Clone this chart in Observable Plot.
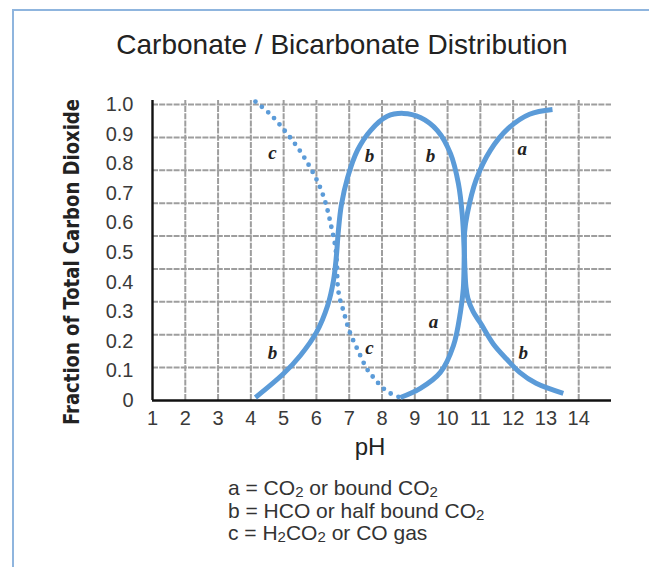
<!DOCTYPE html>
<html>
<head>
<meta charset="utf-8">
<script src="https://cdn.jsdelivr.net/npm/d3@7"></script>
<script src="https://cdn.jsdelivr.net/npm/@observablehq/plot@0.6"></script>
<style>
  html, body { margin: 0; padding: 0; background: #fff; }
  body { width: 649px; height: 567px; position: relative; overflow: hidden; font-family: "Liberation Sans", Arial, sans-serif; }
  #frame { position: absolute; left: 12px; top: 9px; width: 700px; height: 620px; border: 2px solid #8fb5de; box-sizing: border-box; }
  #title { position: absolute; left: 0; top: 29px; width: 684px; text-align: center; font-size: 28px; line-height: 32px; color: #222; }
  #chart { position: absolute; left: 0; top: 0; }
  #ytitle { position: absolute; left: 0; top: 0; }
  #xtitle { position: absolute; left: 0; top: 433px; width: 740px; text-align: center; font-size: 24px; line-height: 28px; color: #222; }
  #legend { position: absolute; left: 228px; top: 477px; font-size: 21px; color: #333; }
  #legend div { height: 22.5px; line-height: 22.5px; }
  #legend sub { font-size: 15px; vertical-align: -2px; line-height: 0; }
</style>
</head>
<body>
<div id="frame"></div>
<div id="title">Carbonate / Bicarbonate Distribution</div>
<div id="chart"></div>
<svg id="ytitle" width="120" height="567"><text x="71" y="262" transform="rotate(-90 71 262)" text-anchor="middle" dominant-baseline="central" textLength="326" lengthAdjust="spacingAndGlyphs" font-family="'Liberation Sans Narrow','DejaVu Sans Condensed','Liberation Sans',sans-serif" font-weight="bold" font-size="22" fill="#222">Fraction of Total Carbon Dioxide</text></svg>
<div id="xtitle">pH</div>
<div id="legend">
  <div>a = CO<sub>2</sub> or bound CO<sub>2</sub></div>
  <div>b = HCO or half bound CO<sub>2</sub></div>
  <div>c = H<sub>2</sub>CO<sub>2</sub> or CO gas</div>
</div>
<script>
// tick labels
const xTicks = [1,2,3,4,5,6,7,8,9,10,11,12,13,14];
const yTicks = [0,0.1,0.2,0.3,0.4,0.5,0.6,0.7,0.8,0.9,1.0];
const yTickLabels = ["0","0.1","0.2","0.3","0.4","0.5","0.6","0.7","0.8","0.9","1.0"];

// curve b (HCO / half bound CO2)
const bPH   = [4.14,5.0,5.51,6.0,6.34,6.52,6.61,6.67,6.76,6.95,7.25,7.65,8.16,8.65,9.17,9.69,10.09,10.33,10.45,10.51,10.53,10.56,10.62,10.78,11.0,11.4,11.8,12.2,12.7,13.53];
const bFrac = [0.01,0.091,0.152,0.23,0.32,0.405,0.49,0.574,0.66,0.753,0.845,0.912,0.96,0.970,0.956,0.912,0.834,0.733,0.625,0.507,0.44,0.385,0.345,0.300,0.262,0.19,0.14,0.095,0.058,0.024];

// curve a (CO2 / bound CO2)
const aPH   = [8.56,9.17,9.78,10.18,10.39,10.48,10.51,10.52,10.6,10.87,11.30,11.85,12.5,13.2];
const aFrac = [0.01,0.041,0.095,0.186,0.297,0.378,0.507,0.569,0.63,0.745,0.844,0.919,0.967,0.983];

// curve c (H2CO2 / CO gas), dotted
const cPH   = [4.14,4.63,5.05,5.45,5.79,6.09,6.30,6.46,6.58,6.63,6.64,6.70,6.82,7.01,7.28,7.55,7.77,8.01,8.26,8.56];
const cFrac = [1.01,0.963,0.909,0.851,0.791,0.726,0.659,0.584,0.517,0.45,0.40,0.35,0.304,0.233,0.166,0.105,0.074,0.044,0.024,0.01];

// curve letter labels
const labText = ["c","b","b","a","b","c","a","b"];
const labPH   = [4.66,7.62,9.48,12.28,4.66,7.62,9.57,12.31];
const labFrac = [0.838,0.828,0.828,0.851,0.162,0.176,0.264,0.162];

// grid lines (square grid: 9 rows, one column per pH unit)
const xGrid = [2,3,4,5,6,7,8,9,10,11,12,13,14];
const yGrid = d3.range(1, 10).map(k => k / 9);

const toRows = (xs, ys) => xs.map((x, i) => ({x, y: ys[i]}));
const bData = toRows(bPH, bFrac);
const aData = toRows(aPH, aFrac);
const cData = toRows(cPH, cFrac);
const labels = labText.map((t, i) => ({t, x: labPH[i], y: labFrac[i]}));

const blue = "#5b9bd8";
const gridColor = "#9e9e9e";
const yTop = 1.0135;

const chart = Plot.plot({
  width: 649,
  height: 470,
  marginLeft: 152,
  marginRight: 38,
  marginTop: 100,
  marginBottom: 70,
  x: {domain: [1, 15]},
  y: {domain: [0, yTop]},
  style: {fontFamily: "'Liberation Sans', Arial, sans-serif", fontSize: "20px", color: "#3a3a3a", background: "transparent", overflow: "visible"},
  marks: [
    Plot.ruleX(xGrid, {y1: 0, y2: yTop, stroke: gridColor, strokeWidth: 2, strokeDasharray: "6,1.2"}),
    Plot.ruleY(yGrid, {x1: 1, x2: 15, stroke: gridColor, strokeWidth: 2, strokeDasharray: "6,1.2"}),
    Plot.ruleY([0], {x1: 1, x2: 15, stroke: "#111", strokeWidth: 2.4}),
    Plot.ruleX([1], {y1: 0, y2: yTop, stroke: "#111", strokeWidth: 2.4}),
    Plot.axisX(xTicks, {anchor: "bottom", tickSize: 0, tickPadding: 10, label: null, tickFormat: d => String(d)}),
    Plot.axisY(yTicks, {anchor: "left", tickSize: 0, tickPadding: 19, label: null, tickFormat: d => yTickLabels[yTicks.indexOf(d)]}),
    Plot.line(cData, {x: "x", y: "y", curve: "catmull-rom", stroke: blue, strokeWidth: 4.8, strokeDasharray: "0,8.3", strokeLinecap: "round"}),
    Plot.line(bData, {x: "x", y: "y", curve: "catmull-rom", stroke: blue, strokeWidth: 5, strokeLinecap: "butt"}),
    Plot.line(aData, {x: "x", y: "y", curve: "catmull-rom", stroke: blue, strokeWidth: 5, strokeLinecap: "butt"}),
    Plot.text(labels, {x: "x", y: "y", text: "t", fontFamily: "'Liberation Serif', 'DejaVu Serif', serif", fontStyle: "italic", fontWeight: "bold", fontSize: 19, fill: "#222"})
  ]
});
document.getElementById("chart").appendChild(chart);
</script>
</body>
</html>
